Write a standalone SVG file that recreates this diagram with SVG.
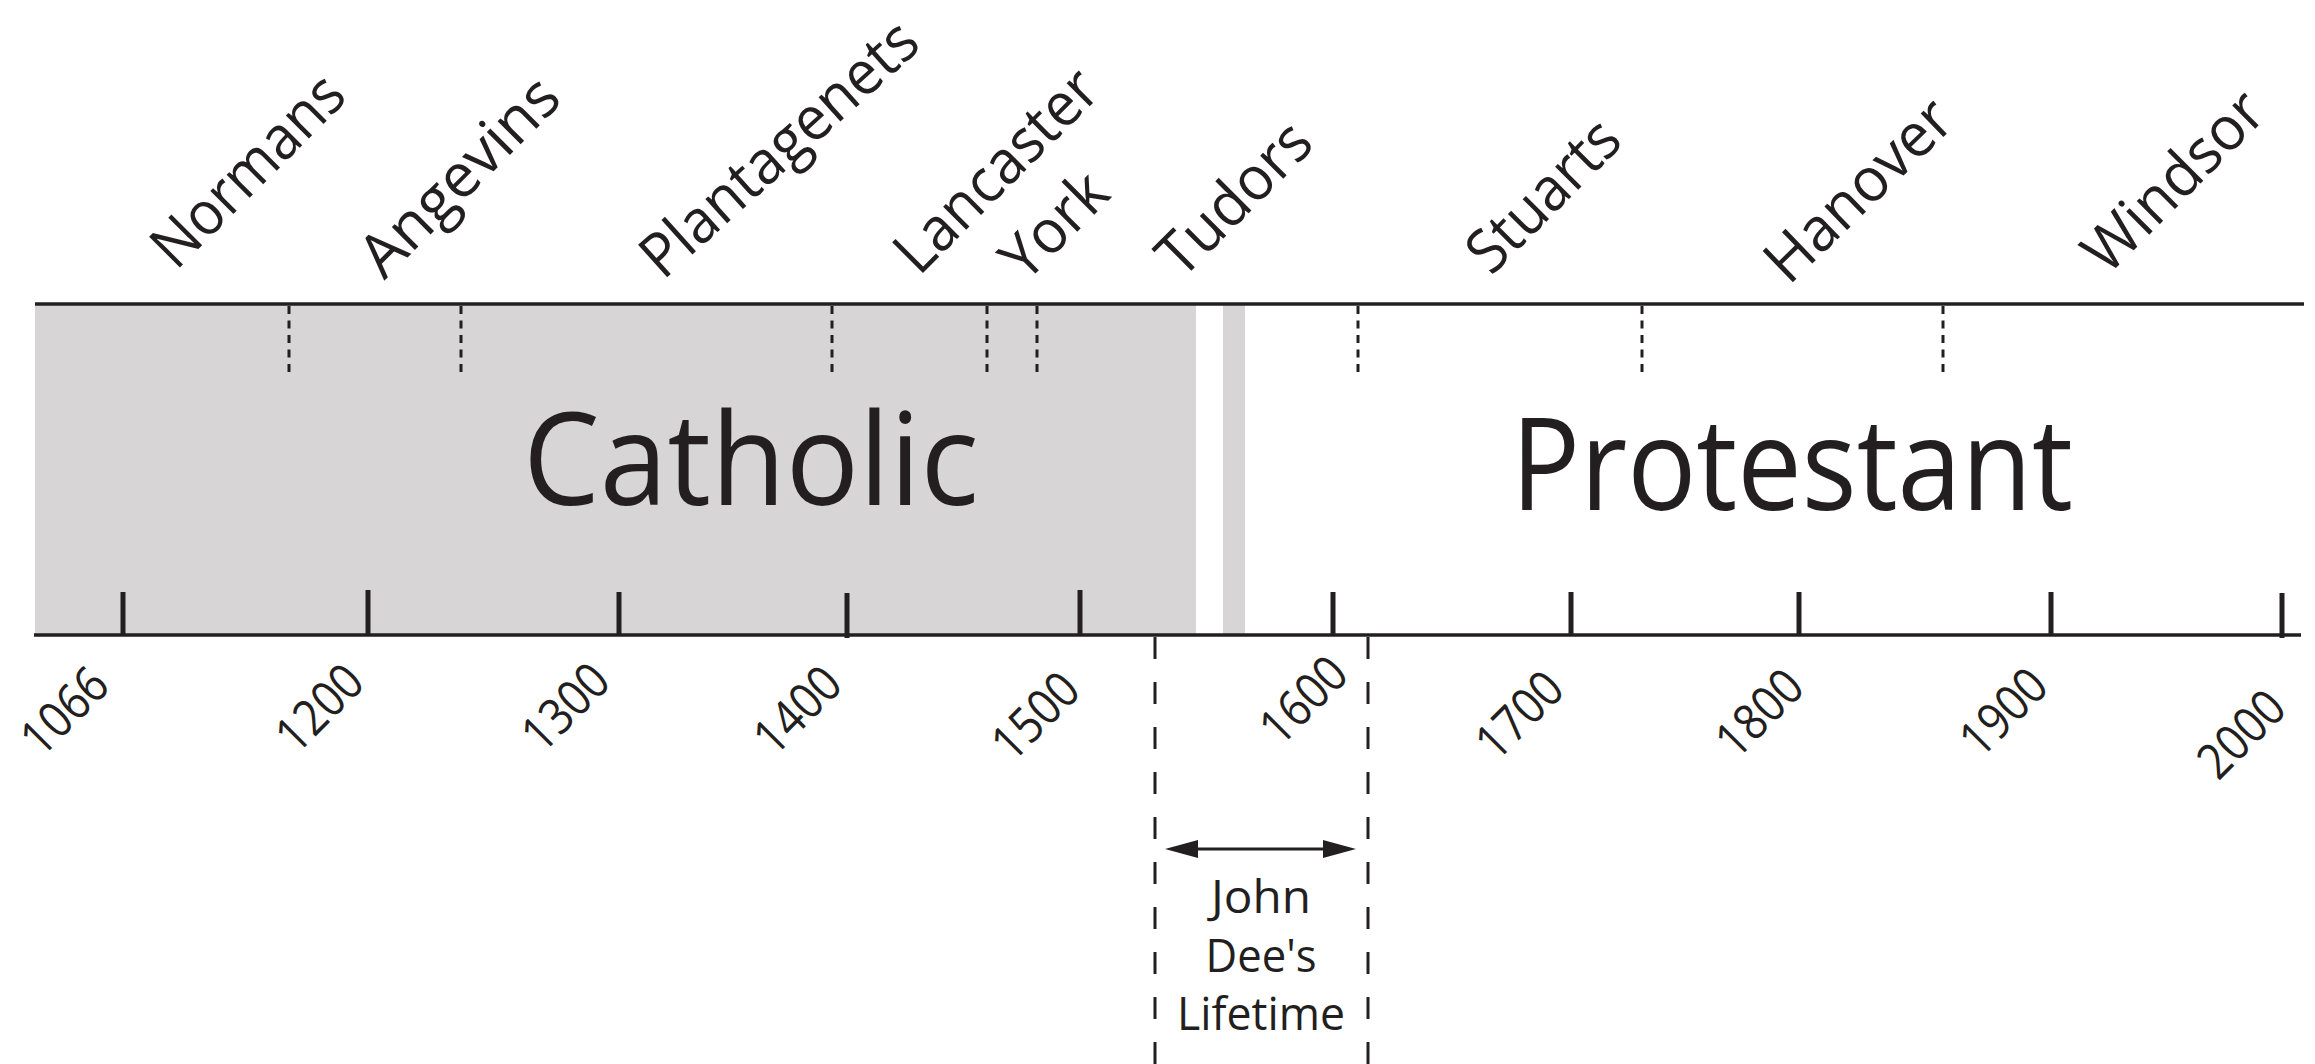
<svg xmlns="http://www.w3.org/2000/svg" width="2315" height="1064" viewBox="0 0 2315 1064">
<style>
.bg{fill:#ffffff}
.gray{fill:#d7d5d6}
.axis{stroke:#231f20;stroke-width:3.5;fill:none}
.tick{stroke:#231f20;stroke-width:5;fill:none}
.mark{stroke:#231f20;stroke-width:3;stroke-dasharray:8 6.5;fill:none}
.life{stroke:#231f20;stroke-width:3;stroke-dasharray:22 23;fill:none}
.arrow{stroke:#231f20;stroke-width:3;fill:none}
.head{fill:#231f20}
text{font-family:"Open Sans","Noto Sans","Liberation Sans",sans-serif;font-weight:500;fill:#231f20}
.dyn{font-size:61px;text-anchor:middle}
.yr{font-size:50px;text-anchor:end}
.big{font-size:128px;text-anchor:middle}
.note{font-size:46px;text-anchor:middle}
</style>
<rect class="bg" x="0" y="0" width="2315" height="1064"/>
<g id="periods">
<rect id="catholic-band" class="gray" x="35" y="304" width="1161" height="331"/>
<rect id="tudor-strip" class="gray" x="1223" y="304" width="22" height="331"/>
<text class="big" x="751" y="505" textLength="456" lengthAdjust="spacingAndGlyphs">Catholic</text>
<text class="big" x="1792" y="510" textLength="562" lengthAdjust="spacingAndGlyphs">Protestant</text>
</g>
<g id="dynasties">
<g id="normans"><line class="mark" x1="289" y1="306" x2="289" y2="372"/><text class="dyn" x="262.5" y="185" transform="rotate(-45 262.5 185)" textLength="245" lengthAdjust="spacingAndGlyphs">Normans</text></g>
<g id="angevins"><line class="mark" x1="461" y1="306" x2="461" y2="372"/><text class="dyn" x="474" y="191" transform="rotate(-45 474 191)" textLength="254" lengthAdjust="spacingAndGlyphs">Angevins</text></g>
<g id="plantagenets"><line class="mark" x1="832" y1="306" x2="832" y2="372"/><text class="dyn" x="793" y="164" transform="rotate(-42 793 164)" textLength="350" lengthAdjust="spacingAndGlyphs">Plantagenets</text></g>
<g id="lancaster"><line class="mark" x1="987" y1="306" x2="987" y2="372"/><text class="dyn" x="1011" y="185" transform="rotate(-45 1011 185)" textLength="260" lengthAdjust="spacingAndGlyphs">Lancaster</text></g>
<g id="york"><line class="mark" x1="1037" y1="306" x2="1037" y2="372"/><text class="dyn" x="1069" y="240" transform="rotate(-45 1069 240)" textLength="123" lengthAdjust="spacingAndGlyphs">York</text></g>
<g id="tudors"><text class="dyn" x="1249" y="213" transform="rotate(-45 1249 213)" textLength="190" lengthAdjust="spacingAndGlyphs">Tudors</text></g>
<g id="stuarts"><line class="mark" x1="1358" y1="306" x2="1358" y2="372"/><text class="dyn" x="1558" y="210" transform="rotate(-45 1558 210)" textLength="189" lengthAdjust="spacingAndGlyphs">Stuarts</text></g>
<g id="hanover"><line class="mark" x1="1642" y1="306" x2="1642" y2="372"/><text class="dyn" x="1873" y="205" transform="rotate(-44 1873 205)" textLength="234" lengthAdjust="spacingAndGlyphs">Hanover</text></g>
<g id="windsor"><line class="mark" x1="1943" y1="306" x2="1943" y2="372"/><text class="dyn" x="2188" y="196" transform="rotate(-45 2188 196)" textLength="228" lengthAdjust="spacingAndGlyphs">Windsor</text></g>
</g>
<g id="axis">
<line class="axis" x1="35" y1="304" x2="2304" y2="304"/>
<line class="axis" x1="34" y1="635" x2="2301" y2="635"/>
<line class="tick" x1="123" y1="592" x2="123" y2="635"/>
<line class="tick" x1="368" y1="590" x2="368" y2="635"/>
<line class="tick" x1="619" y1="592" x2="619" y2="635"/>
<line class="tick" x1="847" y1="593" x2="847" y2="638"/>
<line class="tick" x1="1080" y1="590" x2="1080" y2="635"/>
<line class="tick" x1="1333" y1="592" x2="1333" y2="635"/>
<line class="tick" x1="1571" y1="592" x2="1571" y2="635"/>
<line class="tick" x1="1799" y1="592" x2="1799" y2="635"/>
<line class="tick" x1="2051" y1="592" x2="2051" y2="635"/>
<line class="tick" x1="2282" y1="593" x2="2282" y2="638"/>
</g>
<g id="years">
<text class="yr" x="112" y="688" transform="rotate(-45 112 688)" textLength="100" lengthAdjust="spacingAndGlyphs">1066</text>
<text class="yr" x="367" y="685" transform="rotate(-45 367 685)" textLength="100" lengthAdjust="spacingAndGlyphs">1200</text>
<text class="yr" x="613" y="684" transform="rotate(-45 613 684)" textLength="100" lengthAdjust="spacingAndGlyphs">1300</text>
<text class="yr" x="845" y="687" transform="rotate(-45 845 687)" textLength="100" lengthAdjust="spacingAndGlyphs">1400</text>
<text class="yr" x="1083" y="693" transform="rotate(-45 1083 693)" textLength="100" lengthAdjust="spacingAndGlyphs">1500</text>
<text class="yr" x="1351" y="677" transform="rotate(-45 1351 677)" textLength="100" lengthAdjust="spacingAndGlyphs">1600</text>
<text class="yr" x="1567" y="692" transform="rotate(-45 1567 692)" textLength="100" lengthAdjust="spacingAndGlyphs">1700</text>
<text class="yr" x="1807" y="690" transform="rotate(-45 1807 690)" textLength="100" lengthAdjust="spacingAndGlyphs">1800</text>
<text class="yr" x="2051" y="689" transform="rotate(-45 2051 689)" textLength="100" lengthAdjust="spacingAndGlyphs">1900</text>
<text class="yr" x="2289" y="711" transform="rotate(-45 2289 711)" textLength="100" lengthAdjust="spacingAndGlyphs">2000</text>
</g>
<g id="connectors">
<line class="life" x1="1155" y1="637" x2="1155" y2="1064"/>
<line class="life" x1="1368" y1="637" x2="1368" y2="1064"/>
<line class="arrow" x1="1190" y1="849" x2="1331" y2="849"/>
<polygon class="head" points="1165,849 1198,840 1198,858"/>
<polygon class="head" points="1356,849 1323,840 1323,858"/>
</g>
<g id="lifetime-label">
<text class="note" x="1261" y="913" textLength="100" lengthAdjust="spacingAndGlyphs">John</text>
<text class="note" x="1261" y="972" textLength="111" lengthAdjust="spacingAndGlyphs">Dee's</text>
<text class="note" x="1261" y="1030" textLength="168" lengthAdjust="spacingAndGlyphs">Lifetime</text>
</g>
</svg>
